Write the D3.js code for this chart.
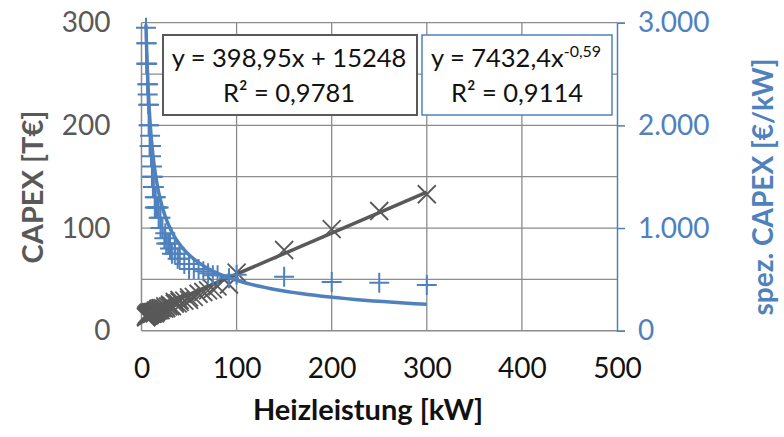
<!DOCTYPE html>
<html>
<head>
<meta charset="utf-8">
<script src="https://cdn.jsdelivr.net/npm/d3@7"></script>
<style>
  body { margin: 0; background: #fff; }
  svg text { font-family: Lato, "Open Sans", sans-serif; }
</style>
</head>
<body>
<div id="chart"></div>
<script>
// Heizleistung [kW]
var leistung = [4.7, 5, 5, 5.5, 5.5, 6, 6, 6.5, 7, 7, 7.5, 8, 8, 8.5, 9, 9, 10, 10, 11, 11,
  12, 12, 13, 14, 14, 15, 15, 16, 17, 18, 18, 20, 20, 22, 24, 25, 26, 28, 30, 30,
  32, 35, 35, 38, 40, 40, 45, 50, 50, 55, 60, 65, 70, 75, 80, 92, 100, 150, 200, 250, 300];
// CAPEX [T€]
var capex = [13.8, 14.0, 13.0, 15.4, 14.3, 14.4, 15.6, 15.0, 15.4, 16.8, 15.0, 16.0, 17.6, 15.3, 17.1, 16.2, 17.0, 18.0, 16.5, 17.6,
  18.0, 16.8, 18.2, 18.2, 16.8, 19.5, 18.0, 19.2, 20.4, 19.8, 21.6, 20.0, 22.0, 22.0, 21.6, 23.8, 22.1, 23.8, 24.0, 25.5,
  24.0, 26.3, 28.0, 26.6, 30.0, 28.0, 29.3, 32.5, 30.0, 33.0, 36.0, 37.7, 39.2, 40.5, 43.2, 45.0, 56.5, 78.6, 99.0, 116.6, 132.9];
// spez. CAPEX [€/kW]
var spezCapex = [2950, 2800, 2600, 2800, 2600, 2400, 2600, 2300, 2200, 2400, 2000, 2000, 2200, 1800, 1900, 1800, 1700, 1800, 1500, 1600,
  1500, 1400, 1400, 1300, 1200, 1300, 1200, 1200, 1200, 1100, 1200, 1000, 1100, 1000, 900, 950, 850, 850, 800, 850,
  750, 750, 800, 700, 750, 700, 650, 650, 600, 600, 600, 580, 560, 540, 540, 510, 545, 526, 475, 467, 445];

var xTicks = [0, 100, 200, 300, 400, 500];
var yLeftTicks = [0, 100, 200, 300];
var yRightTicks = [0, 1000, 2000, 3000];

// trendline coefficients as shown in the chart
var linSlope = 398.95, linIntercept = 15248;   // in €
var powA = 7432.4, powB = -0.59;

var grey = "#595959", blue = "#4f81bd", gridColor = "#8c8c8c";

var width = 784, height = 437;
var svg = d3.select("#chart").append("svg")
  .attr("width", width).attr("height", height);

var x = d3.scaleLinear().domain([0, 500]).range([141.5, 617]);
var yL = d3.scaleLinear().domain([0, 300]).range([330.7, 22.7]);
var yR = d3.scaleLinear().domain([0, 3000]).range([330.7, 22.7]);

svg.append("clipPath").attr("id", "plotclip").append("rect")
  .attr("x", x(0)).attr("y", yL(300)).attr("width", x(500) - x(0)).attr("height", yL(0) - yL(300));

// gridlines
svg.append("g").selectAll("line.h")
  .data(d3.range(50, 301, 50))
  .enter().append("line")
  .attr("x1", x(0)).attr("x2", x(500))
  .attr("y1", function(d) { return yL(d); }).attr("y2", function(d) { return yL(d); })
  .attr("stroke", gridColor).attr("stroke-width", 1.3);
svg.append("g").selectAll("line.v")
  .data([100, 200, 300, 400])
  .enter().append("line")
  .attr("x1", function(d) { return x(d); }).attr("x2", function(d) { return x(d); })
  .attr("y1", yL(0)).attr("y2", yL(300))
  .attr("stroke", gridColor).attr("stroke-width", 1.3);

// axis lines
svg.append("line").attr("x1", x(0)).attr("x2", x(0)).attr("y1", yL(0)).attr("y2", yL(300))
  .attr("stroke", gridColor).attr("stroke-width", 1.5);
svg.append("line").attr("x1", x(0)).attr("x2", x(500)).attr("y1", yL(0)).attr("y2", yL(0))
  .attr("stroke", gridColor).attr("stroke-width", 1.5);

// right axis
var rAxis = svg.append("g")
  .attr("transform", "translate(" + x(500) + ",0)")
  .call(d3.axisRight(yR).tickValues(yRightTicks).tickSize(8).tickFormat(function(d) {
    return d == 0 ? "0" : d3.format(",")(d).replace(/,/g, ".");
  }));
rAxis.select(".domain").attr("stroke", blue).attr("stroke-width", 1.5);
rAxis.selectAll(".tick line").attr("stroke", blue).attr("stroke-width", 1.5);
rAxis.selectAll(".tick text").attr("fill", blue).attr("font-size", 28).attr("x", 21)
  .attr("font-family", "Lato, sans-serif");

// left axis labels
var lAxis = svg.append("g")
  .attr("transform", "translate(" + x(0) + ",0)")
  .call(d3.axisLeft(yL).tickValues(yLeftTicks).tickSize(0));
lAxis.select(".domain").remove();
lAxis.selectAll(".tick text").attr("fill", grey).attr("font-size", 28).attr("x", -31)
  .attr("font-family", "Lato, sans-serif");

// bottom axis labels
var bAxis = svg.append("g")
  .attr("transform", "translate(0," + yL(0) + ")")
  .call(d3.axisBottom(x).tickValues(xTicks).tickSize(0));
bAxis.select(".domain").remove();
bAxis.selectAll(".tick text").attr("fill", "#111").attr("font-size", 28).attr("y", 27)
  .attr("font-family", "Lato, sans-serif");

// axis titles
svg.append("text").attr("transform", "translate(43,187) rotate(-90)")
  .attr("text-anchor", "middle").attr("font-size", 29).attr("font-weight", 700)
  .attr("fill", grey).text("CAPEX [T€]");
svg.append("text").attr("transform", "translate(773,187) rotate(-90)")
  .attr("text-anchor", "middle").attr("font-size", 28).attr("font-weight", 700)
  .attr("fill", blue).text("spez. CAPEX [€/kW]");
svg.append("text").attr("x", 368).attr("y", 420)
  .attr("text-anchor", "middle").attr("font-size", 29).attr("font-weight", 700)
  .attr("fill", "#111").text("Heizleistung [kW]");

var pts = leistung.map(function(d, i) { return {x: d, c: capex[i], s: spezCapex[i]}; });

// grey series: CAPEX (× markers)
var m = 9;
svg.append("g").selectAll("path.cross")
  .data(pts).enter().append("path")
  .attr("d", function(d) {
    var cx = x(d.x), cy = yL(d.c);
    return "M" + (cx - m) + "," + (cy - m) + "L" + (cx + m) + "," + (cy + m) +
           "M" + (cx - m) + "," + (cy + m) + "L" + (cx + m) + "," + (cy - m);
  })
  .attr("stroke", grey).attr("stroke-width", 1.8).attr("fill", "none");

// linear trendline
var xMin = d3.min(leistung), xMax = d3.max(leistung);
var linLine = d3.line()
  .x(function(d) { return x(d); })
  .y(function(d) { return yL((linSlope * d + linIntercept) / 1000); });
svg.append("path").datum([xMin, xMax]).attr("d", linLine)
  .attr("stroke", grey).attr("stroke-width", 3.5).attr("fill", "none");

// blue series: spez. CAPEX (+ markers)
var p = 10;
svg.append("g").selectAll("path.plus")
  .data(pts).enter().append("path")
  .attr("d", function(d) {
    var cx = x(d.x), cy = yR(d.s);
    return "M" + (cx - p) + "," + cy + "L" + (cx + p) + "," + cy +
           "M" + cx + "," + (cy - p) + "L" + cx + "," + (cy + p);
  })
  .attr("stroke", blue).attr("stroke-width", 2).attr("fill", "none");

// power trendline
var powX = d3.range(0, 101).map(function(i) { return xMin * Math.pow(xMax / xMin, i / 100); });
var powLine = d3.line()
  .x(function(d) { return x(d); })
  .y(function(d) { return yR(powA * Math.pow(d, powB)); });
svg.append("path").datum(powX).attr("d", powLine).attr("clip-path", "url(#plotclip)")
  .attr("stroke", blue).attr("stroke-width", 3.5).attr("fill", "none");

// equation labels
var box1 = svg.append("g");
box1.append("rect").attr("x", 163).attr("y", 35).attr("width", 254).attr("height", 80)
  .attr("fill", "#fff").attr("stroke", grey).attr("stroke-width", 2);
box1.append("text").attr("x", 289).attr("y", 67).attr("text-anchor", "middle")
  .attr("font-size", 25.5).attr("fill", "#111").text("y = 398,95x + 15248");
box1.append("text").attr("x", 289).attr("y", 102).attr("text-anchor", "middle")
  .attr("font-size", 25.5).attr("fill", "#111").text("R² = 0,9781");

var box2 = svg.append("g");
box2.append("rect").attr("x", 422).attr("y", 35).attr("width", 190).attr("height", 80)
  .attr("fill", "#fff").attr("stroke", blue).attr("stroke-width", 1.5);
var eq2 = box2.append("text").attr("x", 516).attr("y", 67).attr("text-anchor", "middle")
  .attr("font-size", 25.5).attr("fill", "#111");
eq2.append("tspan").text("y = 7432,4x");
eq2.append("tspan").attr("dy", -10).attr("font-size", 16).text("-0,59");
box2.append("text").attr("x", 517).attr("y", 102).attr("text-anchor", "middle")
  .attr("font-size", 25.5).attr("fill", "#111").text("R² = 0,9114");
</script>
</body>
</html>
